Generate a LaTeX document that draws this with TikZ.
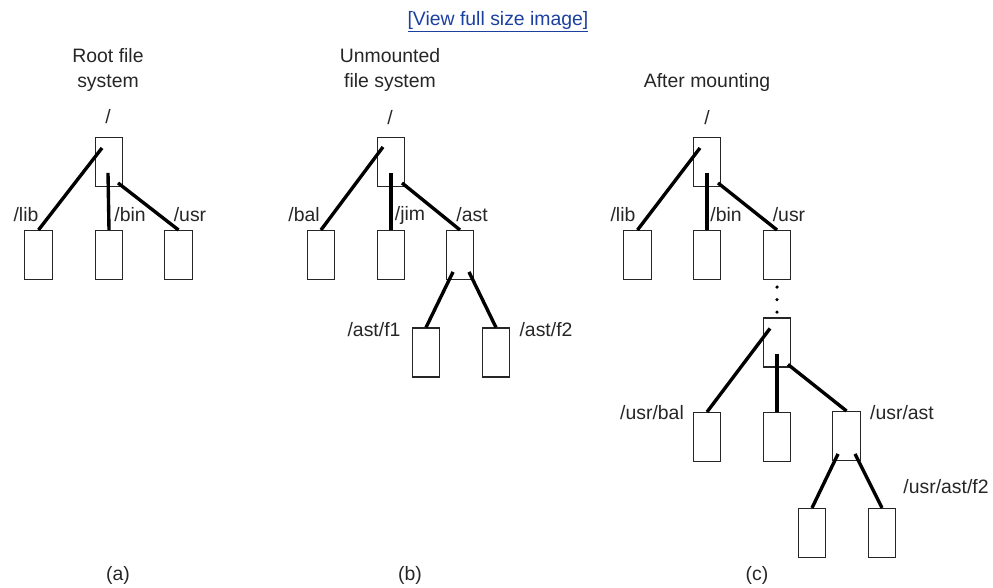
\documentclass[tikz,border=0pt]{standalone}
\usepackage{fontspec}
\setmainfont{Liberation Sans}
\usetikzlibrary{calc}
\definecolor{linkblue}{RGB}{28,64,160}

\begin{document}
\begin{tikzpicture}[
  x=0.025cm, y=-0.025cm,
  dir/.style={draw=black!85, line width=0.9pt, minimum width=0.69cm, minimum height=1.22cm, inner sep=0pt},
  lnk/.style={line width=2.4pt},
  lbl/.style={font=\fontsize{13.8}{17.8}\selectfont, text=black!85, inner sep=0pt, align=center},
]
\useasboundingbox (0,0) rectangle (993,587);

% Link at the top
\node[lbl, text=linkblue] (view) at (498,22) {\underline{[View full size image]}};

% (a) Root file system
\node[lbl] (ta) at (108,70) {Root file\\system};
\node[lbl] (sa) at (108,117) {/};
\node[dir] (ra) at (109,162) {};
\node[dir] (al) at (38.5,255) {};
\node[dir] (ab) at (109,255) {};
\node[dir] (au) at (178.5,255) {};
\draw[lnk] ($(ra.north)+(-7,11)$) -- (al.north);
\draw[lnk] ($(ra.north)+(-1,36)$) -- (ab.north);
\draw[lnk] ($(ra.north)+(9,46)$) -- (au.north);
\node[lbl] (llib) at (26,215) {/lib};
\node[lbl] (lbin) at (130,215) {/bin};
\node[lbl] (lusr) at (190,215) {/usr};
\node[lbl] (capa) at (118,575) {(a)};

% (b) Unmounted file system
\node[lbl] (tb) at (390,70) {Unmounted\\file system};
\node[lbl] (sb) at (390,118) {/};
\node[dir] (rb) at (391,162) {};
\node[dir] (bb) at (321,255) {};
\node[dir] (bj) at (391,255) {};
\node[dir] (ba) at (460,255) {};
\node[dir] (bf1) at (426,352.5) {};
\node[dir] (bf2) at (496,352.5) {};
\draw[lnk] ($(rb.north)+(-8,10)$) -- (bb.north);
\draw[lnk] ($(rb.north)+(0,36)$) -- (bj.north);
\draw[lnk] ($(rb.north)+(11,46)$) -- (ba.north);
\draw[lnk] ($(ba.north)+(-7,42)$) -- (bf1.north);
\draw[lnk] ($(ba.north)+(9,42)$) -- (bf2.north);
\node[lbl] (lbal) at (304,215) {/bal};
\node[lbl] (ljim) at (410,215) {/jim};
\node[lbl] (last) at (472,215) {/ast};
\node[lbl] (lf1) at (374,330) {/ast/f1};
\node[lbl] (lf2) at (546,330) {/ast/f2};
\node[lbl] (capb) at (410,575) {(b)};

% (c) After mounting
\node[lbl] (tc) at (707,82) {After mounting};
\node[lbl] (sc) at (707,118) {/};
\node[dir] (rc) at (707,162) {};
\node[dir] (cl) at (637.5,255) {};
\node[dir] (cb) at (707,255) {};
\node[dir] (cu) at (777,255) {};
\draw[lnk] ($(rc.north)+(-7,11)$) -- (cl.north);
\draw[lnk] ($(rc.north)+(0,36)$) -- (cb.north);
\draw[lnk] ($(rc.north)+(11,46)$) -- (cu.north);
\node[lbl] (clib) at (623,215) {/lib};
\node[lbl] (cbin) at (726,215) {/bin};
\node[lbl] (cusr) at (789,215) {/usr};

% mounted tree
\node[dir] (cm) at (777,342.5) {};
\draw[line width=2.6pt, line cap=round, dash pattern=on 0pt off 8.9pt, dash phase=-5pt] (cu.south) -- (cm.north);
\node[dir] (cbal) at (707,437) {};
\node[dir] (cmid) at (777,437) {};
\node[dir] (cast) at (846.5,436) {};
\node[dir] (cf1) at (812,533) {};
\node[dir] (cf2) at (882,533) {};
\draw[lnk] ($(cm.north)+(-7,11)$) -- (cbal.north);
\draw[lnk] ($(cm.north)+(0,37)$) -- (cmid.north);
\draw[lnk] ($(cm.north)+(11,47)$) -- (cast.north);
\draw[lnk] ($(cast.north)+(-8.5,43)$) -- (cf1.north);
\draw[lnk] ($(cast.north)+(8.5,43)$) -- (cf2.north);
\node[lbl] (cubal) at (652,413) {/usr/bal};
\node[lbl] (cuast) at (902,413) {/usr/ast};
\node[lbl] (cuf2) at (946,487) {/usr/ast/f2};
\node[lbl] (capc) at (757,575) {(c)};

\end{tikzpicture}
\end{document}
